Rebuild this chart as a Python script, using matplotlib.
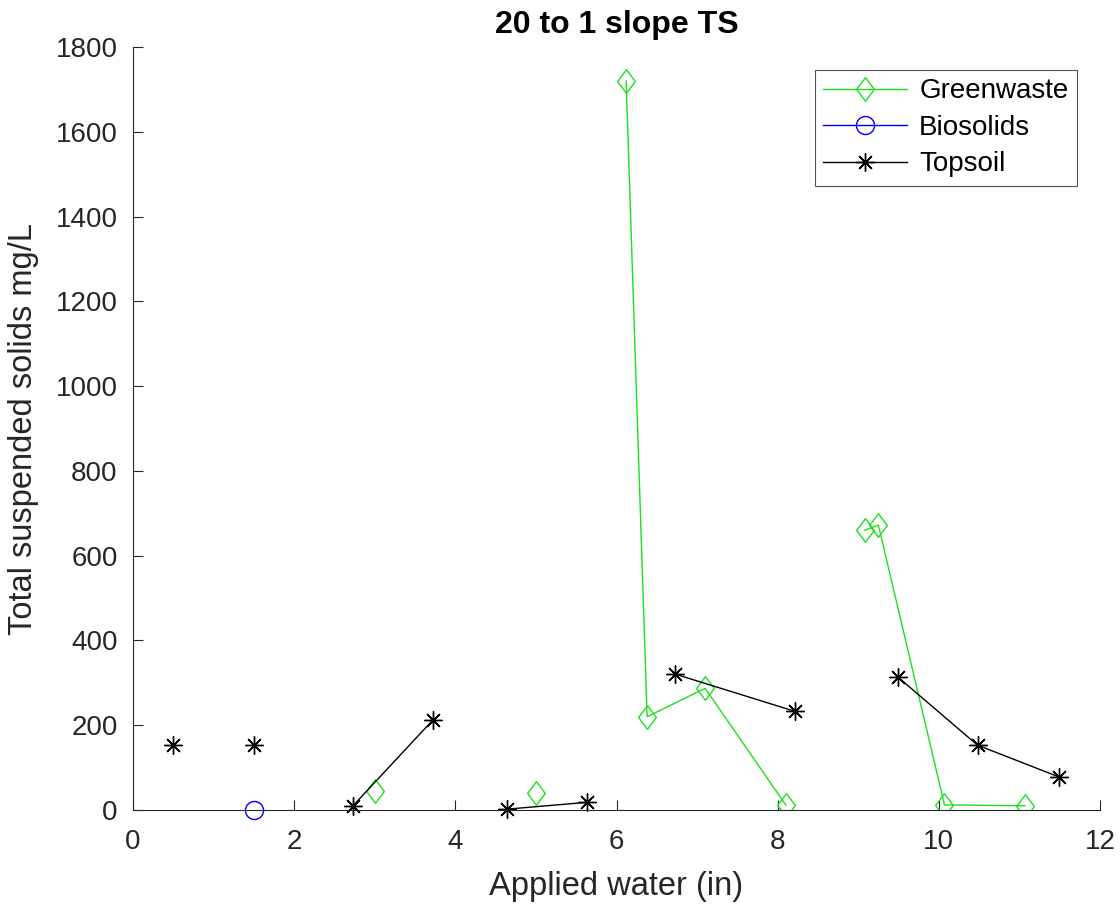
import matplotlib
matplotlib.use("Agg")
import matplotlib.pyplot as plt
import numpy as np
from matplotlib.path import Path

plt.rcParams['font.family'] = ['Liberation Sans', 'DejaVu Sans']

# data (NaN = break between runs)
green_x = [3.0, np.nan, 5.0, np.nan, 6.12, 6.38, 7.1, 8.1, np.nan, 9.08, 9.25, 10.07, 11.07]
green_y = [46, np.nan, 40, np.nan, 1720, 220, 287, 12, np.nan, 660, 672, 12, 10]

bio_x = [1.5]
bio_y = [0]

top_x = [0.5, np.nan, 1.5, np.nan, 2.73, 3.72, np.nan, 4.64, 5.63, np.nan,
         6.72, 8.21, np.nan, 9.49, 10.48, 11.49]
top_y = [153, np.nan, 153, np.nan, 10, 212, np.nan, 2, 18, np.nan,
         321, 233, np.nan, 314, 153, 78]

dark = '#262626'
diamond = Path([(0, 1), (0.75, 0), (0, -1), (-0.75, 0), (0, 1)],
               [Path.MOVETO, Path.LINETO, Path.LINETO, Path.LINETO, Path.CLOSEPOLY])

fig = plt.figure(figsize=(11.2, 9.05), dpi=100)
ax = fig.add_axes([133/1120, 1 - 810/905, (1100-133)/1120, (810-47)/905])

ax.plot(green_x, green_y, color='#1ee01e', lw=1.0, marker=diamond, ms=17,
        mfc='none', mec='#1ee01e', mew=1.0, label='Greenwaste')
ax.plot(bio_x, bio_y, color='#0000ff', lw=1.0, marker='o', ms=13,
        mfc='none', mec='#0000ff', mew=1.0, label='Biosolids', clip_on=False)
ax.plot(top_x, top_y, color='black', lw=1.0, marker=(8, 2, 0), ms=13,
        mew=1.0, label='Topsoil', clip_on=False)

ax.set_xlim(0, 12)
ax.set_ylim(0, 1800)
ax.set_xticks(np.arange(0, 13, 2))
ax.set_yticks(np.arange(0, 1801, 200))
ax.tick_params(direction='in', length=7, width=0.8, colors=dark, labelsize=20)
ax.tick_params(axis='y', pad=11)
ax.tick_params(axis='x', pad=14)
for s in ['top', 'right']:
    ax.spines[s].set_visible(False)
for s in ['left', 'bottom']:
    ax.spines[s].set_color(dark)
    ax.spines[s].set_linewidth(0.8)

ax.set_xlabel('Applied water (in)', fontsize=23.5, color=dark, labelpad=11)
ax.set_ylabel('Total suspended solids mg/L', fontsize=23.5, color=dark, labelpad=12)
ax.set_title('20 to 1 slope TS', fontsize=23, fontweight='bold', color='black', pad=10)

leg = ax.legend(loc='upper right', bbox_to_anchor=(0.976, 0.97), fontsize=20,
                frameon=True, fancybox=False, handlelength=3.0, borderpad=0.3,
                labelspacing=0.38, handletextpad=0.45, borderaxespad=0)
leg.get_frame().set_edgecolor(dark)
leg.get_frame().set_linewidth(0.8)
for t in leg.get_texts():
    t.set_color('black')

fig.savefig('out.png', dpi=100)
